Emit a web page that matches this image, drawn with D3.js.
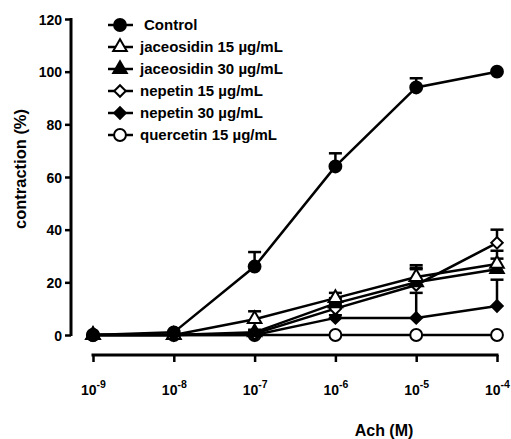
<!DOCTYPE html>
<html>
<head>
<script src="https://cdn.jsdelivr.net/npm/d3@7"></script>
<style>
  body { margin: 0; background: #fff; }
  text { font-family: "Liberation Sans", Arial, sans-serif; font-weight: bold; fill: #000; }
</style>
</head>
<body>
<svg width="511" height="439"></svg>
<script>
"use strict";

// Ach concentration exponents (10^x M)
var doses = [-9, -8, -7, -6, -5, -4];
var yTicks = [0, 20, 40, 60, 80, 100, 120];

var seriesNames = ["Control", "jaceosidin 15 µg/mL", "jaceosidin 30 µg/mL",
                   "nepetin 15 µg/mL", "nepetin 30 µg/mL", "quercetin 15 µg/mL"];
var seriesSymbols = ["circle", "triangle", "triangle", "diamond", "diamond", "circle"];
var seriesFilled = [true, false, true, false, true, false];

var control = [0, 1, 26, 64, 94, 100];
var controlErr = [0, 0, 5.5, 5, 3.5, 0];
var jac15 = [0, 0, 6, 14, 22, 27];
var jac15Err = [0, 0, 3, 2, 4.5, 5];
var jac30 = [0, 0, 1, 12, 20, 25];
var jac30Err = [0, 0, 1, 2, 5.5, 4];
var nep15 = [0, 0, 0.5, 10, 19, 35];
var nep15Err = [0, 0, 1, 2, 6, 5];
var nep30 = [0, 0, 0, 6.5, 6.5, 11];
var nep30Err = [0, 0, 0, 1, 9.5, 10];
var querc = [0, 0, 0, 0, 0, 0];
var quercErr = [0, 0, 0, 0, 0, 0];

var values = [control, jac15, jac30, nep15, nep30, querc];
var errors = [controlErr, jac15Err, jac30Err, nep15Err, nep30Err, quercErr];

var svg = d3.select("svg");

var x = d3.scaleLinear().domain([-9, -4]).range([93, 497]);
var y = d3.scaleLinear().domain([0, 120]).range([335, 19]);

function symbolPath(kind) {
    if (kind === "circle") return d3.symbol().type(d3.symbolCircle).size(110)();
    if (kind === "triangle") return d3.symbol().type(d3.symbolTriangle).size(80)();
    return d3.symbol().type(d3.symbolSquare).size(66)();
}
function symbolRotate(kind) { return kind === "diamond" ? " rotate(45)" : ""; }

// y axis
var yAxis = svg.append("g").attr("transform", "translate(71,0)")
    .call(d3.axisLeft(y).tickValues(yTicks).tickSize(6).tickPadding(3).tickSizeOuter(0));
yAxis.select(".domain").attr("stroke-width", 3).attr("d", "M0," + (y(120) - 1) + "V" + (y(0) + 1));
yAxis.selectAll(".tick line").attr("stroke-width", 2.5);
yAxis.selectAll(".tick text").attr("font-size", 14).attr("dy", "0.36em");

// x axis, detached below the plot
var xAxis = svg.append("g").attr("transform", "translate(0,355)")
    .call(d3.axisBottom(x).tickValues(doses).tickSize(7).tickFormat("").tickSizeOuter(0));
xAxis.select(".domain").attr("stroke-width", 3).attr("d", "M" + (x(-9) - 1.5) + ",0H" + (x(-4) + 1.5));
xAxis.selectAll(".tick line").attr("stroke-width", 2.5);
xAxis.selectAll(".tick").append("text")
    .attr("y", 40).attr("text-anchor", "middle").attr("font-size", 14)
    .each(function(d) {
        var t = d3.select(this);
        t.append("tspan").text("10");
        t.append("tspan").attr("dy", -7).attr("font-size", 10.5).text(String(d));
    });

svg.append("text").attr("x", 384).attr("y", 436).attr("text-anchor", "middle")
    .attr("font-size", 16).text("Ach (M)");
svg.append("text").attr("transform", "translate(26,169) rotate(-90)").attr("text-anchor", "middle")
    .attr("font-size", 16.5).text("contraction (%)");

// series drawn in reverse so Control ends up on top
var order = d3.range(values.length).reverse();
var line = d3.line().x(function(d, i) { return x(doses[i]); }).y(function(d) { return y(d); });

order.forEach(function(s) {
    var g = svg.append("g");
    g.append("path").attr("d", line(values[s])).attr("fill", "none")
        .attr("stroke", "#000").attr("stroke-width", 2.5);
    var pts = doses.map(function(d, i) { return { x: d, v: values[s][i], e: errors[s][i] }; });
    var eb = g.selectAll(".err").data(pts.filter(function(p) { return p.e > 0; })).enter().append("g");
    eb.append("line")
        .attr("x1", function(p) { return x(p.x); }).attr("x2", function(p) { return x(p.x); })
        .attr("y1", function(p) { return y(p.v); }).attr("y2", function(p) { return y(p.v + p.e); })
        .attr("stroke", "#000").attr("stroke-width", 2.5);
    eb.append("line")
        .attr("x1", function(p) { return x(p.x) - 6.5; }).attr("x2", function(p) { return x(p.x) + 6.5; })
        .attr("y1", function(p) { return y(p.v + p.e); }).attr("y2", function(p) { return y(p.v + p.e); })
        .attr("stroke", "#000").attr("stroke-width", 2.5);
    g.selectAll(".pt").data(pts).enter().append("path")
        .attr("d", symbolPath(seriesSymbols[s]))
        .attr("transform", function(p) { return "translate(" + x(p.x) + "," + y(p.v) + ")" + symbolRotate(seriesSymbols[s]); })
        .attr("fill", seriesFilled[s] ? "#000" : "#fff")
        .attr("stroke", "#000").attr("stroke-width", 2);
});

// legend
var legend = svg.append("g").selectAll("g").data(seriesNames).enter().append("g")
    .attr("transform", function(d, i) { return "translate(0," + (25 + i * 22) + ")"; });
legend.append("line").attr("x1", 108).attr("x2", 133).attr("stroke", "#000").attr("stroke-width", 2.5);
legend.append("path")
    .attr("d", function(d, i) { return symbolPath(seriesSymbols[i]); })
    .attr("transform", function(d, i) { return "translate(120,0)" + symbolRotate(seriesSymbols[i]); })
    .attr("fill", function(d, i) { return seriesFilled[i] ? "#000" : "#fff"; })
    .attr("stroke", "#000").attr("stroke-width", 2);
legend.append("text")
    .attr("x", function(d, i) { return i === 0 ? 144 : 140; }).attr("dy", "0.35em")
    .attr("font-size", 15).text(function(d) { return d; });
</script>
</body>
</html>
